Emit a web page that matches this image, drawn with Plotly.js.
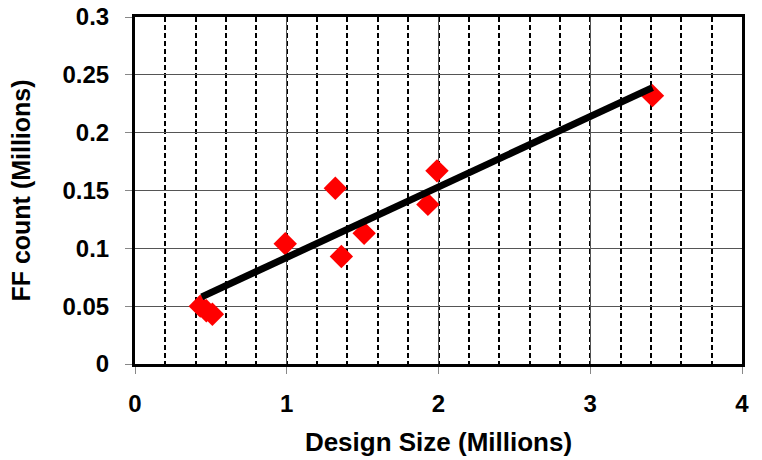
<!DOCTYPE html>
<html>
<head>
<meta charset="utf-8">
<script src="https://cdn.plot.ly/plotly-3.0.1.min.js"></script>
<style>html,body{margin:0;padding:0;background:#fff;}#chart{width:762px;height:460px;}</style>
</head>
<body>
<div id="chart"></div>
<script>
// Data (millions)
const designSize = [0.43, 0.47, 0.51, 0.99, 1.32, 1.36, 1.51, 1.93, 1.99, 3.41];
const ffCount    = [0.050, 0.046, 0.043, 0.104, 0.152, 0.093, 0.113, 0.138, 0.167, 0.232];
const trendX = [0.44, 3.41];
const trendY = [0.058, 0.239];
const xTicks = [0, 1, 2, 3, 4];
const yTicks = [0, 0.05, 0.1, 0.15, 0.2, 0.25, 0.3];
const yTickText = ['0', '0.05', '0.1', '0.15', '0.2', '0.25', '0.3'];

const font = 'Liberation Sans, Arial, sans-serif';

const traces = [
  {
    x: designSize, y: ffCount, type: 'scatter', mode: 'markers',
    marker: {symbol: 'diamond', color: '#ff0000', size: 18, line: {width: 0}},
    hoverinfo: 'skip'
  },
  {
    x: trendX, y: trendY, type: 'scatter', mode: 'lines',
    line: {color: '#000000', width: 7},
    hoverinfo: 'skip'
  }
];

const layout = {
  width: 762, height: 460,
  margin: {l: 135, r: 20, t: 17, b: 96},
  paper_bgcolor: '#ffffff', plot_bgcolor: '#ffffff',
  showlegend: false,
  font: {family: font, color: '#000'},
  xaxis: {
    range: [0, 4], tickvals: xTicks, ticktext: xTicks.map(String),
    showgrid: true, gridcolor: '#555555', gridwidth: 1,
    minor: {dtick: 0.2, tick0: 0, showgrid: true, gridcolor: '#000000', gridwidth: 2, griddash: '5px,3px', ticks: ''},
    ticks: 'outside', ticklen: 7, tickcolor: '#888888', tickwidth: 1,
    ticklabelstandoff: 9,
    showline: true, linecolor: '#000000', linewidth: 3, mirror: true,
    zeroline: false,
    tickfont: {family: font, size: 24, color: '#000', weight: 'bold'},
    title: {text: '<b>Design Size (Millions)</b>', font: {family: font, size: 26, color: '#000'}, standoff: 18}
  },
  yaxis: {
    range: [0, 0.3], tickvals: yTicks, ticktext: yTickText,
    showgrid: true, gridcolor: '#555555', gridwidth: 1,
    ticks: 'outside', ticklen: 7, tickcolor: '#888888', tickwidth: 1,
    ticklabelstandoff: 11,
    showline: true, linecolor: '#000000', linewidth: 3, mirror: true,
    zeroline: false,
    tickfont: {family: font, size: 24, color: '#000', weight: 'bold'},
    title: {text: '<b>FF count (Millions)</b>', font: {family: font, size: 25, color: '#000'}, standoff: 25}
  }
};

Plotly.newPlot('chart', traces, layout, {displayModeBar: false, staticPlot: true});
</script>
</body>
</html>
